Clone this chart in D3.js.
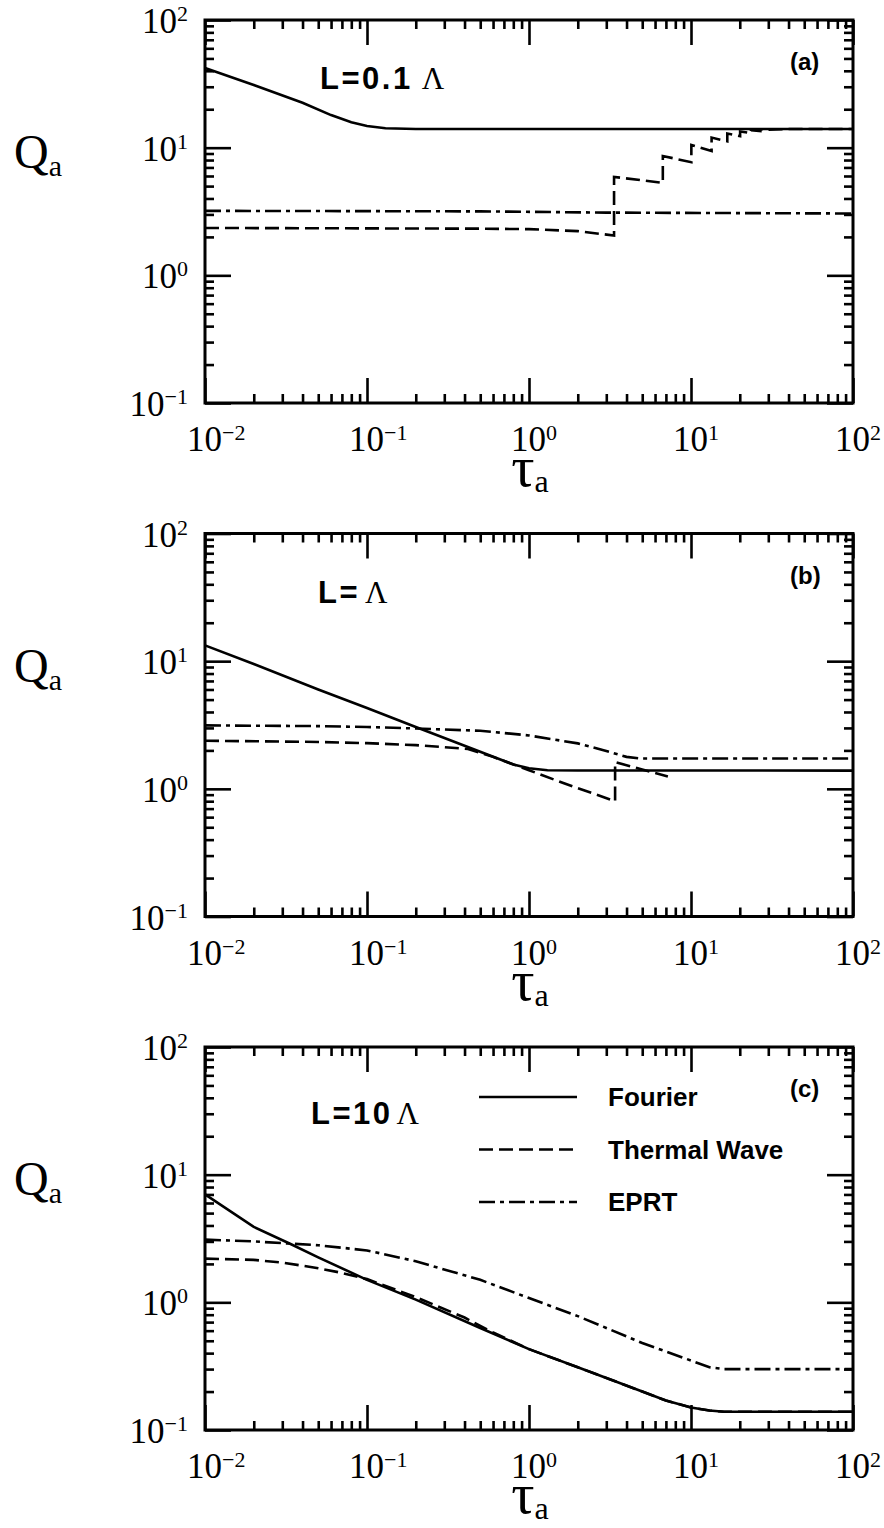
<!DOCTYPE html>
<html><head><meta charset="utf-8">
<script src="https://cdn.jsdelivr.net/npm/d3@7"></script>
<style>body{margin:0;background:#fff}svg{display:block}</style>
</head><body>
<svg id="chart" width="884" height="1528"></svg>
<script>
// ---------- data ----------
const xDomain = [0.01, 100];
const yDomain = [0.1, 100];
const xTickExp = [-2, -1, 0, 1, 2];
const yTickExp = [-1, 0, 1, 2];
const panelLetters = ["(a)", "(b)", "(c)"];
const lengthLabels = ["L=0.1", "L=", "L=10"];
const seriesNames = ["Fourier", "Thermal Wave", "EPRT"];

// panel (a)  L = 0.1 Λ   [tau_a, Q_a]
const fourierA = [[0.01,42],[0.02,31],[0.04,22.5],[0.06,18],[0.08,15.8],[0.1,14.8],[0.13,14.2],[0.2,14],[100,14]];
const thermalA = [[0.01,2.35],[0.5,2.32],[1,2.3],[2,2.22],[3.35,2.05],[3.35,5.9],[6.7,5.3],[6.7,8.6],[10.05,7.7],
  [10.05,10.5],[13.4,9.4],[13.4,12.0],[16.75,11.2],[16.75,12.9],[20.1,12.3],[20.1,13.4],[23.45,13.0],
  [23.45,13.7],[26.8,13.5],[26.8,13.9],[30.15,13.8],[40,14],[100,14]];
const eprtA = [[0.01,3.2],[0.5,3.17],[3,3.1],[100,3.05]];

// panel (b)  L = Λ
const fourierB = [[0.01,13.3],[0.02,9.5],[0.05,6.0],[0.1,4.3],[0.2,3.05],[0.5,1.95],[0.8,1.55],[1.0,1.45],[1.3,1.4],[2,1.39],[100,1.39]];
const thermalB = [[0.01,2.38],[0.05,2.33],[0.1,2.28],[0.2,2.2],[0.3,2.12],[0.42,2.05],[0.6,1.78],[1,1.4],[1.66,1.1],[3.4,0.8],[3.4,1.62],[7.2,1.25]];
const eprtB = [[0.01,3.14],[0.05,3.1],[0.1,3.05],[0.2,2.97],[0.5,2.85],[1,2.62],[2,2.27],[3,1.98],[4,1.78],[4.8,1.73],[100,1.73]];

// panel (c)  L = 10 Λ
const fourierC = [[0.01,7.0],[0.02,3.9],[0.034,2.85],[0.05,2.25],[0.1,1.5],[0.2,1.05],[0.5,0.63],[1,0.43],[2,0.31],[3.15,0.25],
  [5,0.2],[7,0.17],[10,0.15],[13,0.142],[16,0.139],[100,0.139]];
const thermalC = [[0.01,2.2],[0.02,2.15],[0.03,2.05],[0.05,1.85],[0.07,1.7],[0.1,1.52],[0.2,1.1],[0.4,0.76],[0.6,0.58],[1,0.43],
  [2,0.31],[3.15,0.25],[5,0.2],[7,0.17],[10,0.15],[13,0.142],[16,0.139],[100,0.139]];
const eprtC = [[0.01,3.1],[0.02,3.0],[0.05,2.8],[0.1,2.55],[0.2,2.1],[0.5,1.5],[1,1.08],[2,0.78],[3,0.63],[5,0.48],[10,0.35],[13,0.31],[16,0.3],[100,0.3]];

const panelSeries = [[fourierA, thermalA, eprtA], [fourierB, thermalB, eprtB], [fourierC, thermalC, eprtC]];

// ---------- drawing ----------
const svg = d3.select("#chart");
const LEFT = 205, RIGHT = 853, H = 383;
const tops = [20, 533.5, 1047];
const dashes = [null, "14,6", "16,5,4,5"];
const serif = "'Liberation Serif','Times New Roman',serif";
const sans = "'Liberation Sans',Arial,sans-serif";

function minors(lo, hi) {
  const out = [];
  for (let e = lo; e < hi; e++) for (let k = 2; k <= 9; k++) out.push(k * Math.pow(10, e));
  return out;
}
const xMajor = xTickExp.map(e => Math.pow(10, e));
const yMajor = yTickExp.map(e => Math.pow(10, e));
const xMinor = minors(-2, 2);
const yMinor = minors(-1, 2);

panelSeries.forEach((series, i) => {
  const y0 = tops[i], y1 = y0 + H;
  const xs = d3.scaleLog().domain(xDomain).range([LEFT, RIGHT]);
  const ys = d3.scaleLog().domain(yDomain).range([y1, y0]);
  const g = svg.append("g");

  // ticks via d3 axes (inward) on all four sides
  const axes = [
    [d3.axisBottom(xs).tickValues(xMajor).tickSize(-25), `translate(0,${y1})`],
    [d3.axisBottom(xs).tickValues(xMinor).tickSize(-9), `translate(0,${y1})`],
    [d3.axisTop(xs).tickValues(xMajor).tickSize(-25), `translate(0,${y0})`],
    [d3.axisTop(xs).tickValues(xMinor).tickSize(-9), `translate(0,${y0})`],
    [d3.axisLeft(ys).tickValues(yMajor).tickSize(-26), `translate(${LEFT},0)`],
    [d3.axisLeft(ys).tickValues(yMinor).tickSize(-9), `translate(${LEFT},0)`],
    [d3.axisRight(ys).tickValues(yMajor).tickSize(-26), `translate(${RIGHT},0)`],
    [d3.axisRight(ys).tickValues(yMinor).tickSize(-9), `translate(${RIGHT},0)`]
  ];
  axes.forEach(([ax, tr]) => {
    const ag = g.append("g").attr("transform", tr).call(ax.tickFormat(() => ""));
    ag.select(".domain").remove();
    ag.selectAll(".tick line").attr("stroke", "black").attr("stroke-width", 2.6);
  });

  // frame
  g.append("rect").attr("x", LEFT).attr("y", y0).attr("width", RIGHT - LEFT).attr("height", H)
    .attr("fill", "none").attr("stroke", "black").attr("stroke-width", 3);

  // data lines
  const lineGen = d3.line().x(d => xs(d[0])).y(d => ys(d[1]));
  series.forEach((s, k) => {
    g.append("path").datum(s).attr("d", lineGen).attr("fill", "none")
      .attr("stroke", "black").attr("stroke-width", 2.6)
      .attr("stroke-dasharray", dashes[k]);
  });

  // x tick labels
  xTickExp.forEach(e => {
    const t = g.append("text").attr("x", xs(Math.pow(10, e)) - 18).attr("y", y1 + 48)
      .attr("font-family", serif).attr("font-size", 35).attr("fill", "black");
    t.append("tspan").text("10");
    t.append("tspan").attr("dy", -11).attr("font-size", 22).text(String(e).replace("-", "\u2212"));
  });
  // y tick labels
  yTickExp.forEach(e => {
    const t = g.append("text").attr("x", 188).attr("y", ys(Math.pow(10, e)) + 13)
      .attr("text-anchor", "end").attr("font-family", serif).attr("font-size", 35).attr("fill", "black");
    t.append("tspan").text("10");
    t.append("tspan").attr("dy", -12).attr("font-size", 22).text(String(e).replace("-", "\u2212"));
  });

  // axis titles
  const q = g.append("text").attr("x", 14).attr("y", y0 + 148).attr("font-family", serif)
    .attr("font-size", 48).attr("fill", "black");
  q.append("tspan").text("Q");
  q.append("tspan").attr("dy", 8).attr("font-size", 30).text("a");

  const tau = g.append("text").attr("x", 530).attr("y", y1 + 83).attr("text-anchor", "middle")
    .attr("font-family", serif).attr("font-size", 58).attr("fill", "black");
  tau.append("tspan").text("\u03C4");
  tau.append("tspan").attr("dy", 6).attr("font-size", 32).text("a");

  // L = ... Λ
  const lbl = g.append("text").attr("x", [320, 318, 311][i]).attr("y", y0 + [69, 69, 77][i])
    .attr("font-size", 31).attr("fill", "black");
  lbl.append("tspan").attr("font-family", sans).attr("font-weight", "bold").attr("letter-spacing", 2.5).text(lengthLabels[i]);
  lbl.append("tspan").attr("font-family", serif).attr("dx", [9, 5, 4][i]).text("\u039B");

  // panel letter
  g.append("text").attr("x", 790).attr("y", y0 + 50).attr("font-family", sans).attr("font-weight", "bold")
    .attr("font-size", 24).attr("fill", "black").text(panelLetters[i]);

  // legend in panel (c)
  if (i === 2) {
    seriesNames.forEach((name, k) => {
      const ly = y0 + 50 + k * 52.5;
      g.append("line").attr("x1", 479).attr("x2", 577).attr("y1", ly).attr("y2", ly)
        .attr("stroke", "black").attr("stroke-width", 2.6).attr("stroke-dasharray", dashes[k]);
      g.append("text").attr("x", 608).attr("y", ly + 9).attr("font-family", sans).attr("font-weight", "bold")
        .attr("font-size", 26).attr("fill", "black").text(name);
    });
  }
});
</script>
</body></html>
